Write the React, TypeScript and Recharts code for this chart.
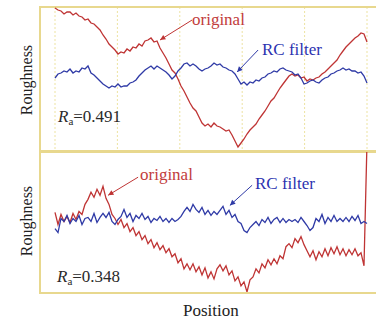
import { LineChart, Line, XAxis, YAxis, CartesianGrid, ReferenceLine, ReferenceArea } from 'recharts'

// sample positions along the trace (same grid for both panels)
const position = Array.from({ length: 105 }, (_, i) => i)
const gridTicks = [0, 20.8, 41.6, 62.4, 83.2, 104]

// upper panel: unfiltered profile and RC-filtered profile
const originalTop = [
  71, 69, 68, 65, 67, 67, 64, 66, 63, 62, 59, 60, 56, 55, 52, 49, 44, 40, 35, 32,
  29, 25, 27, 26, 30, 28, 32, 31, 35, 33, 38, 39, 41, 37, 38, 31, 26, 21, 15, 9,
  6, 0, -7, -12, -18, -24, -29, -32, -38, -44, -47, -45, -48, -44, -47, -48, -50, -52, -51, -56,
  -62, -68, -64, -60, -55, -51, -48, -45, -40, -36, -32, -27, -22, -19, -14, -9, -5, -1, 3, 5,
  3, 4, 1, 2, -2, 0, -1, 1, 2, 5, 7, 10, 13, 16, 19, 24, 28, 32, 35, 38,
  41, 43, 46, 45, 37,
]
const filteredTop = [
  1, 5, 6, 8, 7, 10, 6, 8, 7, 11, 10, 13, 6, 4, 1, -2, -5, -7, -9, -7,
  -8, -5, -8, -7, -7, -4, -3, -1, 3, 6, 9, 11, 13, 10, 13, 11, 9, 7, 4, 0,
  3, 8, 11, 15, 16, 13, 15, 13, 10, 8, 10, 11, 13, 16, 14, 15, 12, 11, 9, 8,
  5, 0, -5, -3, -6, -3, -4, -1, -2, 1, 2, 5, 6, 8, 7, 10, 11, 9, 8, 7,
  4, 5, 1, -5, -4, -2, -1, -3, -4, -1, 1, 2, 5, 6, 8, 9, 11, 9, 10, 8,
  8, 6, 7, 3, -4,
]

// lower panel
const originalBottom = [
  10, -2, 8, 1, 6, 0, 9, 3, 11, 8, 18, 23, 30, 25, 33, 27, 36, 24, 18, 8,
  4, -2, 3, -5, -1, -9, -5, -13, -9, -17, -13, -21, -17, -25, -20, -27, -23, -30, -26, -34,
  -31, -40, -36, -46, -41, -47, -41, -49, -44, -52, -45, -55, -49, -56, -46, -42, -48, -43, -52, -48,
  -58, -54, -63, -59, -69, -57, -54, -46, -50, -41, -45, -37, -42, -36, -41, -33, -36, -24, -21, -25,
  -16, -20, -14, -22, -28, -34, -28, -37, -29, -34, -26, -33, -25, -31, -24, -32, -26, -33, -27, -32,
  -26, -33, -30, -43, 80,
]
const filteredBottom = [
  -6, -10, 4, 1, 7, -1, 4, 1, 7, -2, 4, 5, 1, 9, 0, 5, 9, 5, 10, 1,
  -2, 3, 6, 13, 5, 9, 1, 7, 4, 9, 3, 6, 0, 4, 2, 6, 1, 4, 0, 4,
  1, 3, 6, 11, 15, 11, 18, 13, 10, 15, 8, 12, 7, 11, 8, 12, 16, 8, 12, 5,
  8, 1, -1, -8, -10, -5, -2, 1, -3, 3, 0, 5, -1, 3, 5, 0, 4, 0, 3, 1,
  3, 0, 5, 1, -3, -8, -5, 4, 1, 8, -1, 5, 1, 7, 1, 4, 1, 5, 1, 6,
  2, 7, -1, 1, -1,
]

const topData = position.map((p, i) => ({ p, original: originalTop[i], filtered: filteredTop[i] }))
const bottomData = position.map((p, i) => ({ p, original: originalBottom[i], filtered: filteredBottom[i] }))

const RED = '#bf3434'
const BLUE = '#2f3aa6'
const GRID = '#ede3a2'
const FRAME = '#e8d88e'
const FONT = '"Liberation Serif", "Times New Roman", serif'

const arrow = (color: string) => (props: any) => {
  const { x1, y1, x2, y2 } = props
  const a = Math.atan2(y2 - y1, x2 - x1)
  const L = 6
  const pts = [
    [x2, y2],
    [x2 - L * Math.cos(a - 0.45), y2 - L * Math.sin(a - 0.45)],
    [x2 - L * Math.cos(a + 0.45), y2 - L * Math.sin(a + 0.45)],
  ]
  return (
    <g>
      <line x1={x1} y1={y1} x2={x2} y2={y2} stroke={color} strokeWidth={1} />
      <polygon points={pts.map((q) => q.join(',')).join(' ')} fill={color} />
    </g>
  )
}

const txt = (left: number, top: number, color: string, size = 17): React.CSSProperties => ({
  position: 'absolute',
  left,
  top,
  color,
  fontSize: size,
  lineHeight: `${size}px`,
  fontFamily: FONT,
  whiteSpace: 'nowrap',
})

const rotated = (cy: number): React.CSSProperties => ({
  position: 'absolute',
  left: -23,
  top: cy - 8,
  width: 100,
  textAlign: 'center',
  transform: 'rotate(-90deg)',
  fontSize: 16,
  lineHeight: '16px',
  fontFamily: FONT,
  color: '#222',
})

export default function App() {
  return (
    <div style={{ position: 'absolute', left: 0, top: 0, width: 376, height: 320, overflow: 'hidden', background: '#fff' }}>
      <div style={{ position: 'absolute', left: 0, top: 0 }}>
        <LineChart width={400} height={152} data={topData} margin={{ top: 7, right: 0, bottom: 1, left: 0 }}>
          <CartesianGrid stroke={GRID} strokeDasharray="2 2" />
          <XAxis dataKey="p" type="number" domain={[-5, 115]} ticks={gridTicks} hide />
          <YAxis
            width={40}
            domain={[-72, 72]}
            ticks={[-48, -24, 0, 24, 48]}
            allowDataOverflow
            tick={false}
            tickSize={3}
            tickLine={{ stroke: '#666' }}
            axisLine={{ stroke: FRAME, strokeWidth: 2 }}
          />
          <ReferenceArea x1={-5} x2={115} y1={-72} y2={72} fill="none" stroke={FRAME} strokeWidth={2} />
          <Line dataKey="original" stroke={RED} strokeWidth={1.3} dot={false} isAnimationActive={false} />
          <Line dataKey="filtered" stroke={BLUE} strokeWidth={1.3} dot={false} isAnimationActive={false} />
          <ReferenceLine segment={[{ x: 45.7, y: 59 }, { x: 35, y: 39 }]} shape={arrow(RED)} />
          <ReferenceLine segment={[{ x: 67.7, y: 29 }, { x: 60.7, y: 7 }]} shape={arrow(BLUE)} />
        </LineChart>
      </div>
      <div style={{ position: 'absolute', left: 0, top: 150 }}>
        <LineChart width={400} height={170} data={bottomData} margin={{ top: 2, right: 0, bottom: 0, left: 0 }}>
          <CartesianGrid stroke={GRID} strokeDasharray="2 2" />
          <XAxis
            dataKey="p"
            type="number"
            domain={[-5, 115]}
            ticks={gridTicks}
            height={27}
            tick={false}
            tickSize={3}
            tickLine={{ stroke: '#666' }}
            axisLine={{ stroke: FRAME, strokeWidth: 2 }}
          />
          <YAxis
            width={40}
            domain={[-70, 70]}
            ticks={[-35, 0, 35]}
            allowDataOverflow
            tick={false}
            tickSize={3}
            tickLine={{ stroke: '#666' }}
            axisLine={{ stroke: FRAME, strokeWidth: 2 }}
          />
          <ReferenceArea x1={-5} x2={115} y1={-70} y2={70} fill="none" stroke={FRAME} strokeWidth={2} />
          <Line dataKey="original" stroke={RED} strokeWidth={1.3} dot={false} isAnimationActive={false} />
          <Line dataKey="filtered" stroke={BLUE} strokeWidth={1.3} dot={false} isAnimationActive={false} />
          <ReferenceLine segment={[{ x: 27.7, y: 45 }, { x: 17.7, y: 27 }]} shape={arrow(RED)} />
          <ReferenceLine segment={[{ x: 65.7, y: 37 }, { x: 58.3, y: 17 }]} shape={arrow(BLUE)} />
        </LineChart>
      </div>

      <div style={txt(192, 11, '#c23c3c')}>original</div>
      <div style={txt(262, 41, '#2c32b0')}>RC filter</div>
      <div style={txt(58, 108, '#2a2a2a')}>
        <i>R</i>
        <sub style={{ fontSize: 11, lineHeight: 0, verticalAlign: '-3px' }}>a</sub>=0.491
      </div>

      <div style={txt(140, 166, '#c23c3c')}>original</div>
      <div style={txt(255, 175, '#2c32b0')}>RC filter</div>
      <div style={txt(57, 268, '#2a2a2a')}>
        <i>R</i>
        <sub style={{ fontSize: 11, lineHeight: 0, verticalAlign: '-3px' }}>a</sub>=0.348
      </div>

      <div style={rotated(80)}>Roughness</div>
      <div style={rotated(221)}>Roughness</div>
      <div style={txt(183, 302, '#222')}>Position</div>
    </div>
  )
}
